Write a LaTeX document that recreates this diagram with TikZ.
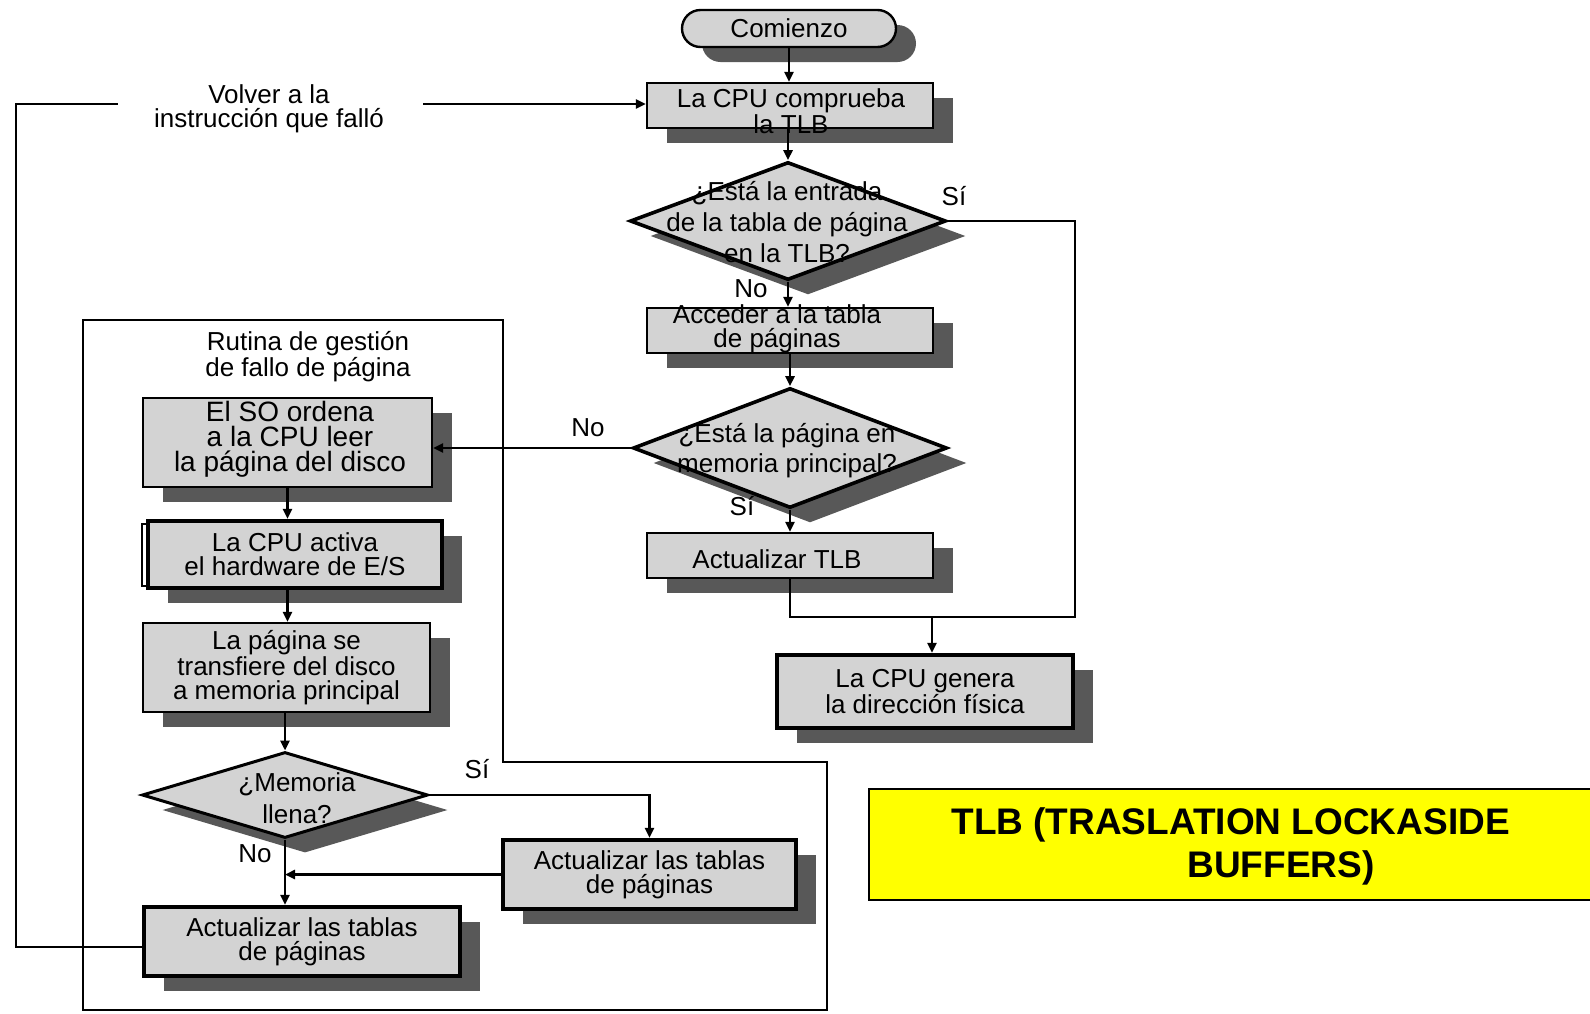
\documentclass[tikz,border=0pt]{standalone}
\usepackage{fontspec}
\setmainfont{Liberation Sans}
\usetikzlibrary{shapes.geometric,shapes.misc,shadows,arrows.meta}
\definecolor{boxfill}{RGB}{211,211,211}
\definecolor{shadowc}{RGB}{88,88,88}
\definecolor{tlbyellow}{RGB}{255,255,0}
\begin{document}
\begin{tikzpicture}[x=0.5pt,y=-0.5pt,
  shd/.style={drop shadow={shadow xshift=10pt,shadow yshift=-7.5pt,fill=shadowc,opacity=1}},
  box/.style={rectangle,draw=black,line width=1.2pt,fill=boxfill,inner sep=0pt,align=center,font=\fontsize{13}{12}\selectfont,shd},
  tbox/.style={box,line width=2.2pt},
  dia/.style={diamond,draw=black,line width=1.8pt,fill=boxfill,inner sep=0pt,shd},
  txt/.style={align=center,inner sep=0pt,font=\fontsize{13}{12}\selectfont},
  lbl/.style={inner sep=1pt,font=\fontsize{13}{15}\selectfont},
  conn/.style={line width=1.3pt,draw=black},
  arr/.style={conn,-{Triangle[length=5pt,width=4.5pt]}},
]
\useasboundingbox (0,0) rectangle (1590,1013);

% routine frame
\draw[line width=1.3pt] (83,320) -- (503,320) -- (503,762) -- (827,762) -- (827,1010) -- (83,1010) -- cycle;

% main column
\node[box,rounded rectangle,minimum width=107pt,minimum height=18.5pt,font=\fontsize{13}{15}\selectfont] (start) at (789,28.5) {Comienzo};
\node[box,minimum width=143pt,minimum height=22.5pt] (check) at (790,105.5) {};
\node[txt,font=\fontsize{13}{11.5}\selectfont] (checkt) at (791,111) {La CPU comprueba\\la TLB};
\node[dia,minimum width=158pt,minimum height=59pt] (d1) at (788,221) {};
\node[txt,font=\fontsize{13}{15.5}\selectfont] (d1t) at (787,222) {¿Está la entrada\\de la tabla de página\\en la TLB?};
\node[box,minimum width=143pt,minimum height=22.5pt] (acc) at (790,330.5) {};
\node[txt] (acct) at (777,329) {Acceder a la tabla\\de páginas};
\node[dia,minimum width=157pt,minimum height=60pt] (d2) at (790,448) {};
\node[txt,font=\fontsize{13}{15}\selectfont] (d2t) at (787,451) {¿Está la página en\\memoria principal?};
\node[box,minimum width=143pt,minimum height=22.5pt] (tlb) at (790,555.5) {};
\node[txt] (tlbt) at (777,559) {Actualizar TLB};
\node[tbox,minimum width=148pt,minimum height=36.5pt] (gen) at (925,691.5) {La CPU genera\\la dirección física};

% yellow title
\node[draw=black,line width=1pt,fill=tlbyellow,minimum width=362pt,minimum height=55.5pt,inner sep=0pt] (ybox) at (1231,844.5) {};
\node[anchor=west,align=left,inner sep=0pt,font=\fontsize{18.5}{21.5}\selectfont\bfseries] (ytext) at (951,846) {TLB (TRASLATION LOCKASIDE\\\hspace*{118pt}BUFFERS)};

% routine
\node[txt,font=\fontsize{13}{13}\selectfont] (rt) at (308,357) {Rutina de gestión\\de fallo de página};
\node[box,minimum width=144.5pt,minimum height=44.5pt] (so) at (287.5,442.5) {};
\node[txt,font=\fontsize{14}{12.5}\selectfont] (sot) at (290,439) {El SO ordena\\a la CPU leer\\la página del disco};
\draw[line width=0.6pt] (142,524) rectangle (300,586);
\node[tbox,minimum width=147pt,minimum height=33.5pt] (act) at (295,554.5) {La CPU activa\\el hardware de E/S};
\node[box,minimum width=143.5pt,minimum height=44.5pt] (trans) at (286.5,667.5) {La página se\\transfiere del disco\\a memoria principal};
\node[dia,line width=1.5pt,minimum width=143pt,minimum height=43pt] (d3) at (285,795) {};
\node[txt,font=\fontsize{13}{16}\selectfont] (d3t) at (297,798) {¿Memoria\\llena?};
\node[tbox,minimum width=146.5pt,minimum height=34.5pt] (upd2) at (649.5,874.5) {Actualizar las tablas\\de páginas};
\node[tbox,minimum width=158pt,minimum height=34.5pt] (upd1) at (302,941.5) {Actualizar las tablas\\de páginas};

% return text
\node[txt,font=\fontsize{13}{12}\selectfont] (volver) at (269,109) {Volver a la\\instrucción que falló};

% coordinates
\coordinate (lb) at (16,947);
\coordinate (lc) at (16,104);
\coordinate (ga) at (118,104);
\coordinate (gb) at (423,104);
\coordinate (r) at (1075,617);
\coordinate (j) at (932,617);

% connectors
\draw[arr] (start.south) -- (start.south |- check.north);
\draw[arr] (check.south -| d1.north) -- (d1.north);
\draw[arr] (d1.south) -- (d1.south |- acc.north);
\draw[arr] (acc.south) -- (acc.south |- d2.north);
\draw[arr] (d2.south) -- (d2.south |- tlb.north);
\draw[arr] (d2.west) -- (d2.west -| so.east);
\draw[conn] (d1.east) -| (r) -- (r -| tlb.south) -- (tlb.south);
\draw[arr] (j) -- (j |- gen.north);
\draw[arr] (so.south) -- (so.south |- act.north);
\draw[arr] (act.south -| so.south) -- (so.south |- trans.north);
\draw[arr] (trans.south -| d3.north) -- (d3.north);
\draw[arr] (d3.south) -- (d3.south |- upd1.north);
\draw[arr] (d3.east) -| (upd2.north);
\draw[arr] (upd2.west) -- (upd2.west -| d3.south);
\draw[conn] (upd1.west |- lb) -- (lb) -- (lc) -- (ga);
\draw[arr] (gb) -- (gb -| check.west);

% labels
\node[lbl] (si1) at (954,196) {Sí};
\node[lbl] (no1) at (751,289) {No};
\node[lbl] (no2) at (588,428) {No};
\node[lbl] (si2) at (742,506) {Sí};
\node[lbl] (si3) at (477,769) {Sí};
\node[lbl] (no3) at (255,854) {No};
\end{tikzpicture}
\end{document}
